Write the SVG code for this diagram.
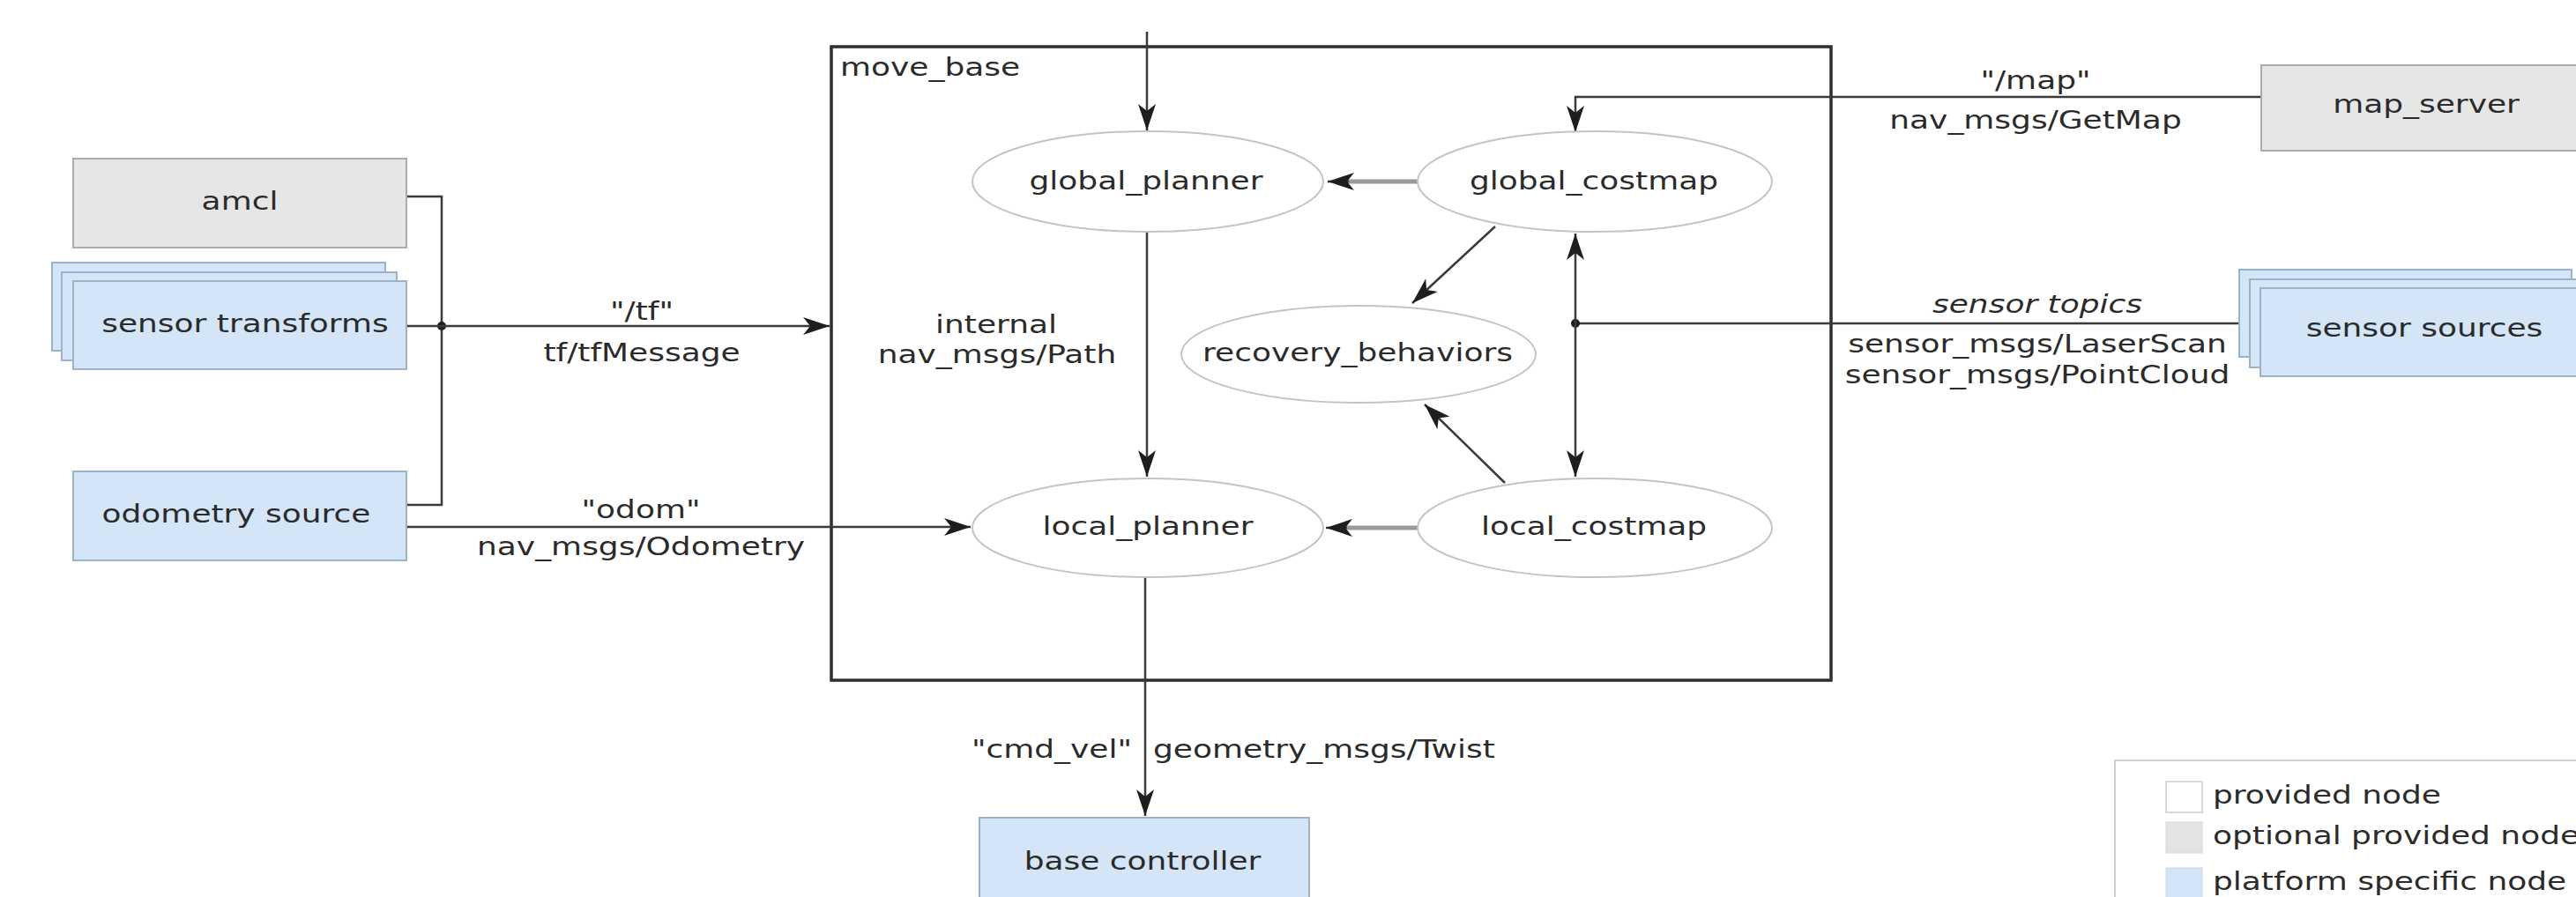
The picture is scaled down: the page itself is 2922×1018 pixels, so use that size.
<svg xmlns="http://www.w3.org/2000/svg" width="2922" height="1018" viewBox="0 0 2922 1018">
<style>
.t{font-family:"DejaVu Sans","Liberation Sans",sans-serif;font-size:29px;fill:#2b2b2b}
.m{text-anchor:middle}
.e{text-anchor:end}
.i{font-style:italic}
.gray{fill:#e6e6e6;stroke:#ababab;stroke-width:2}
.blue{fill:#d4e5f8;stroke:#9db2c6;stroke-width:2}
.ell{fill:#ffffff;stroke:#c4c4c4;stroke-width:2}
.ln{fill:none;stroke:#3a3a3a;stroke-width:2.5}
.lg{fill:none;stroke:#9a9a9a;stroke-width:5}
.box{fill:none;stroke:#2e2e2e;stroke-width:3.5}
</style>
<defs>
<marker id="ah" markerWidth="34" markerHeight="24" viewBox="-32 -12 34 24" refX="0" refY="0" orient="auto" markerUnits="userSpaceOnUse">
<path d="M0,0 L-30,-10 L-22,0 L-30,10 Z" fill="#1e1e1e"/>
</marker>
</defs>
<rect width="2922" height="1018" fill="#ffffff"/>

<g id="move_base">
<rect class="box" x="943" y="53" width="1134" height="719"/>
<text class="t" transform="translate(953,86) scale(1.24,1)">move_base</text>
</g>

<g id="connectors">
<path class="ln" d="M461,223 L501,223 L501,573 L461,573"/>
<circle cx="501" cy="370" r="5" fill="#1e1e1e"/>
<path class="ln" d="M461,370 L941,370" marker-end="url(#ah)"/>
<path class="ln" d="M461,598 L1101,598" marker-end="url(#ah)"/>
<path class="ln" d="M1301,36 L1301,148" marker-end="url(#ah)"/>
<path class="ln" d="M1301,263 L1301,541" marker-end="url(#ah)"/>
<path class="lg" d="M1608,206 L1525,206"/>
<path class="ln" d="M1530,206 L1506,206" marker-end="url(#ah)"/>
<path class="lg" d="M1608,599 L1523,599"/>
<path class="ln" d="M1528,599 L1504,599" marker-end="url(#ah)"/>
<path class="ln" d="M1696,257 L1602,344" marker-end="url(#ah)"/>
<path class="ln" d="M1707,548 L1616,459" marker-end="url(#ah)"/>
<path class="ln" d="M2565,110 L1787,110 L1787,150" marker-end="url(#ah)"/>
<path class="ln" d="M2540,367 L1787,367"/>
<circle cx="1787" cy="367" r="5" fill="#1e1e1e"/>
<path class="ln" d="M1787,367 L1787,265" marker-end="url(#ah)"/>
<path class="ln" d="M1787,367 L1787,541" marker-end="url(#ah)"/>
<path class="ln" d="M1299,655 L1299,926" marker-end="url(#ah)"/>
<text class="t m" transform="translate(728,363) scale(1.24,1)">"/tf"</text>
<text class="t m" transform="translate(728,410) scale(1.24,1)">tf/tfMessage</text>
<text class="t m" transform="translate(727,588) scale(1.24,1)">"odom"</text>
<text class="t m" transform="translate(727,630) scale(1.24,1)">nav_msgs/Odometry</text>
<text class="t m" transform="translate(1130,378) scale(1.24,1)">internal</text>
<text class="t m" transform="translate(1131,412) scale(1.24,1)">nav_msgs/Path</text>
<text class="t m" transform="translate(2309,101) scale(1.24,1)">"/map"</text>
<text class="t m" transform="translate(2309,146) scale(1.24,1)">nav_msgs/GetMap</text>
<text class="t m i" transform="translate(2311,355) scale(1.24,1)">sensor topics</text>
<text class="t m" transform="translate(2311,400) scale(1.24,1)">sensor_msgs/LaserScan</text>
<text class="t m" transform="translate(2311,435) scale(1.24,1)">sensor_msgs/PointCloud</text>
<text class="t e" transform="translate(1284,860) scale(1.24,1)">"cmd_vel"</text>
<text class="t" transform="translate(1308,860) scale(1.24,1)">geometry_msgs/Twist</text>
</g>

<g id="amcl">
<rect class="gray" x="83" y="180" width="378" height="101"/>
<text class="t m" transform="translate(272,238) scale(1.24,1)">amcl</text>
</g>

<g id="sensor_transforms">
<rect class="blue" x="59" y="298" width="378" height="100"/>
<rect class="blue" x="70" y="309" width="380" height="100"/>
<rect class="blue" x="83" y="319" width="378" height="100"/>
<text class="t m" transform="translate(278,377) scale(1.24,1)">sensor transforms</text>
</g>

<g id="odometry_source">
<rect class="blue" x="83" y="535" width="378" height="101"/>
<text class="t m" transform="translate(268,593) scale(1.24,1)">odometry source</text>
</g>

<g id="global_planner">
<ellipse class="ell" cx="1302" cy="206" rx="199" ry="57"/>
<text class="t m" transform="translate(1300,215) scale(1.24,1)">global_planner</text>
</g>

<g id="global_costmap">
<ellipse class="ell" cx="1809" cy="206" rx="201" ry="57"/>
<text class="t m" transform="translate(1808,215) scale(1.24,1)">global_costmap</text>
</g>

<g id="recovery_behaviors">
<ellipse class="ell" cx="1541" cy="402" rx="201" ry="55"/>
<text class="t m" transform="translate(1540,410) scale(1.24,1)">recovery_behaviors</text>
</g>

<g id="local_planner">
<ellipse class="ell" cx="1302" cy="599" rx="199" ry="56"/>
<text class="t m" transform="translate(1302,607) scale(1.24,1)">local_planner</text>
</g>

<g id="local_costmap">
<ellipse class="ell" cx="1809" cy="599" rx="201" ry="56"/>
<text class="t m" transform="translate(1808,607) scale(1.24,1)">local_costmap</text>
</g>

<g id="map_server">
<rect class="gray" x="2565" y="74" width="400" height="97"/>
<text class="t m" transform="translate(2752,128) scale(1.24,1)">map_server</text>
</g>

<g id="sensor_sources">
<rect class="blue" x="2540" y="306" width="377" height="99"/>
<rect class="blue" x="2552" y="317" width="400" height="100"/>
<rect class="blue" x="2564" y="327" width="400" height="100"/>
<text class="t m" transform="translate(2750,382) scale(1.24,1)">sensor sources</text>
</g>

<g id="base_controller">
<rect class="blue" x="1111" y="928" width="374" height="120"/>
<text class="t m" transform="translate(1296,987) scale(1.24,1)">base controller</text>
</g>

<g id="legend">
<rect x="2399" y="863" width="600" height="200" fill="#ffffff" stroke="#d0d0d0" stroke-width="2"/>
<rect x="2457" y="887" width="41" height="35" fill="#ffffff" stroke="#d8d8d8" stroke-width="2"/>
<rect x="2457" y="933" width="41" height="35" fill="#e3e3e3" stroke="#d8d8d8" stroke-width="1"/>
<rect x="2457" y="985" width="41" height="40" fill="#d4e5f8" stroke="#c8d8ea" stroke-width="1"/>
<text class="t" transform="translate(2510,912) scale(1.24,1)">provided node</text>
<text class="t" transform="translate(2510,958) scale(1.24,1)">optional provided node</text>
<text class="t" transform="translate(2510,1010) scale(1.24,1)">platform specific node</text>
</g>
</svg>
